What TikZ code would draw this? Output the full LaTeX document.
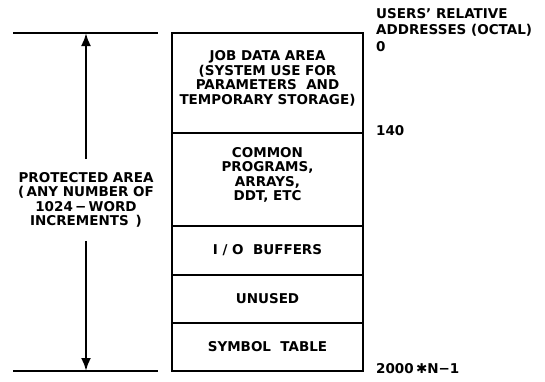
\documentclass[tikz,border=0pt]{standalone}
\usepackage{fontspec}
\setmainfont{DejaVu Sans}
\usepackage{tikz}
\usetikzlibrary{arrows.meta, positioning}

\begin{document}
\begin{tikzpicture}[
    x=1pt, y=-1pt,
    txt/.style={font=\fontsize{13.5}{14.5}\selectfont\bfseries, inner sep=0pt},
    sec/.style={draw, line width=2.5pt, minimum width=191pt, outer sep=0pt,
                align=center, font=\fontsize{13.5}{14.5}\selectfont\bfseries},
    addr/.style={txt, anchor=west, align=left},
    rule/.style={line width=2.2pt},
    arr/.style={-{Latex[width=10pt, length=13pt]}, line width=2.4pt},
  ]
    \useasboundingbox (0,0) rectangle (545,381);

    % === memory layout (stacked sections) ===
    \node[sec, anchor=north, minimum height=100pt, text depth=11pt] (job) at (267.5, 33)
      {JOB DATA AREA\\(SYSTEM USE FOR\\PARAMETERS \ AND\\TEMPORARY STORAGE)};
    \node[sec, minimum height=93pt, text depth=11pt, below=0pt of job] (com)
      {COMMON\\PROGRAMS,\\ARRAYS,\\DDT, ETC};
    \node[sec, minimum height=49pt, below=0pt of com] (iob) {I / O \ BUFFERS};
    \node[sec, minimum height=48pt, below=0pt of iob] (unu) {UNUSED};
    \node[sec, minimum height=48pt, below=0pt of unu] (sym) {SYMBOL \ TABLE};

    % === relative addresses (right) ===
    \node[addr, font=\fontsize{13.5}{16.5}\selectfont\bfseries] (hdr) at (376, 22.5)
      {USERS' RELATIVE\\ADDRESSES (OCTAL)};
    \node[addr] (a0) at (376, 47) {0};
    \node[addr] (a140) at (376, 131) {140};
    \node[addr] (aend) at (376, 369) {2000\,✱N−1};

    % === protected area extent (left) ===
    \coordinate (tl) at (13, 33);
    \coordinate (tr) at (158, 33);
    \coordinate (bl) at (13, 371);
    \coordinate (br) at (158, 371);
    \coordinate (ptop) at (86, 33);
    \coordinate (pbot) at (86, 371);
    \draw[rule] (tl) -- (tr);
    \draw[rule] (bl) -- (br);

    \node[txt, align=center, inner ysep=13pt] (prot) at (86, 200)
      {PROTECTED AREA\\(\,ANY NUMBER OF\\1024\,−\,WORD\\INCREMENTS \,)};

    \draw[arr] (prot.north) -- (ptop);
    \draw[arr] (prot.south) -- (pbot);
  \end{tikzpicture}
\end{document}
